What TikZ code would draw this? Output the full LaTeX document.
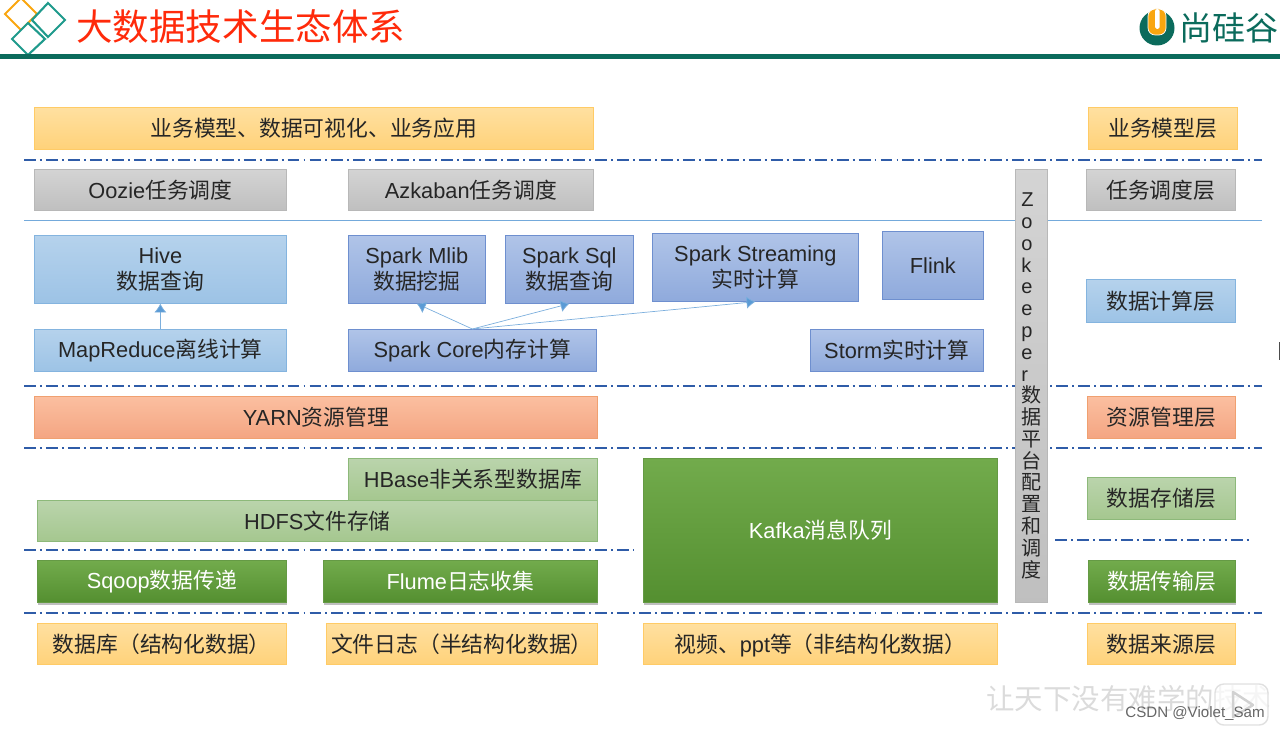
\documentclass[tikz,border=0pt]{standalone}
\usepackage{fontspec}
\setmainfont{Liberation Sans}
\newfontfamily\cjk{Noto Sans CJK SC}
\usetikzlibrary{arrows.meta,shadows}
\definecolor{barteal}{HTML}{0B6B5C}
\definecolor{diamondteal}{HTML}{1F9A8C}
\definecolor{logoorange}{HTML}{F9A60F}
\definecolor{titlered}{HTML}{FF2A0A}
\definecolor{sepblue}{HTML}{2F5CA8}
\definecolor{arrowblue}{HTML}{5B9BD5}
\definecolor{yellowtop}{HTML}{FFE0A0}
\definecolor{yellowbot}{HTML}{FFD27A}
\definecolor{yellowline}{HTML}{FFCB66}
\definecolor{bluetop}{HTML}{B0C4E8}
\definecolor{bluebot}{HTML}{8FAADC}
\definecolor{blueline}{HTML}{6E8FCF}
\definecolor{redtop}{HTML}{FBBFA0}
\definecolor{redbot}{HTML}{F4A582}
\definecolor{redline}{HTML}{F0A070}
\definecolor{paletop}{HTML}{BAD4AC}
\definecolor{palebot}{HTML}{A5C78F}
\definecolor{paleline}{HTML}{8DB97A}
\definecolor{greentop}{HTML}{72AB4C}
\definecolor{greenbot}{HTML}{548F30}
\tikzset{
    box/.style={anchor=north west, inner sep=0pt, align=center, text=black!85,
        font=\fontsize{12.4}{14.6}\selectfont},
    zhfont/.style={font=\cjk\fontsize{12.4}{14.6}\selectfont},
    wh/.style n args={2}{minimum width=#1*0.02cm, minimum height=#2*0.02cm},
    yellowbox/.style={box, draw=yellowline, top color=yellowtop, bottom color=yellowbot},
    graybox/.style={box, draw=black!28, top color=black!17, bottom color=black!25},
    skybox/.style={box, draw=arrowblue!75, top color=arrowblue!45, bottom color=arrowblue!60},
    bluebox/.style={box, draw=blueline, top color=bluetop, bottom color=bluebot},
    redbox/.style={box, draw=redline, top color=redtop, bottom color=redbot},
    palegreenbox/.style={box, draw=paleline, top color=paletop, bottom color=palebot},
    greenbox/.style={box, draw=greenbot!90!white, text=white, top color=greentop, bottom color=greenbot,
        drop shadow={shadow xshift=0.3pt, shadow yshift=-1.5pt, opacity=0.5}},
    sepline/.style={draw=sepblue, line width=0.9pt, dash pattern=on 6.8pt off 2.3pt on 1.1pt off 2.3pt},
    flow/.style={draw=arrowblue!80, line width=0.4pt, -{Latex[length=5pt,width=7pt,fill=arrowblue]}}
}
\begin{document}
\begin{tikzpicture}[x=0.02cm, y=-0.02cm]
    \useasboundingbox (0,0) rectangle (1280,729);

    \draw[logoorange, line width=1.2pt] (21,-2) -- (37,14) -- (21,30) -- (5,14) -- cycle;
    \draw[diamondteal, line width=1.2pt] (48,3) -- (65,20) -- (48,37) -- (32,20) -- cycle;
    \draw[diamondteal, line width=1.2pt, fill=white] (28,23) -- (45,39) -- (28,55) -- (12,39) -- cycle;
    \node[anchor=west, inner sep=0pt, text=titlered, font=\cjk\fontsize{20.8}{22}\selectfont] (title) at (76,27) {大数据技术生态体系};

    \fill[barteal] (0,54.5) rectangle (1280,59);
    \fill[barteal] (1157,28) circle (17.5);
    \fill[logoorange, draw=white, line width=0.4pt, rounded corners=4pt] (1148,9) rectangle (1166,35);
    \fill[white, rounded corners=1pt] (1155,9) rectangle (1159.5,29);
    \node[anchor=west, inner sep=0pt, text=barteal, font=\cjk\fontsize{18.8}{20}\selectfont] (brand) at (1179,28) {尚硅谷};

    \foreach \sepy in {160,386,448,613} {
        \coordinate (sepl\sepy) at (24,\sepy);
        \coordinate (sepr\sepy) at (1262,\sepy);
        \draw[sepline] (sepl\sepy) -- (sepr\sepy);
    }
    \coordinate (hdfsl) at (24,550);
    \coordinate (hdfsr) at (633,550);
    \draw[sepline] (hdfsl) -- (hdfsr);
    \coordinate (transl) at (1055,540);
    \coordinate (transr) at (1252,540);
    \draw[sepline] (transl) -- (transr);
    \coordinate (taskl) at (24,220);
    \coordinate (taskr) at (1262,220);
    \draw[draw=arrowblue!85, line width=0.5pt] (taskl) -- (taskr);

    \node[yellowbox, wh={559}{42}, zhfont] (bizapp) at (34,107) {业务模型、数据可视化、业务应用};
    \node[graybox, wh={252}{41}] (oozie) at (34,169) {Oozie{\cjk 任务调度}};
    \node[graybox, wh={245}{41}] (azkaban) at (348,169) {Azkaban{\cjk 任务调度}};
    \node[skybox, wh={252}{68}] (hive) at (34,235) {Hive\\{\cjk 数据查询}};
    \node[bluebox, wh={137}{68}] (mlib) at (348,235) {Spark Mlib\\{\cjk 数据挖掘}};
    \node[bluebox, wh={128}{68}] (sparksql) at (505,235) {Spark Sql\\{\cjk 数据查询}};
    \node[bluebox, wh={206}{68}] (streaming) at (652,233) {Spark Streaming\\{\cjk 实时计算}};
    \node[bluebox, wh={101}{68}] (flink) at (882,231) {Flink};
    \node[skybox, wh={252}{42}] (mapreduce) at (34,329) {MapReduce{\cjk 离线计算}};
    \node[bluebox, wh={248}{42}] (sparkcore) at (348,329) {Spark Core{\cjk 内存计算}};
    \node[bluebox, wh={173}{42}] (storm) at (810,329) {Storm{\cjk 实时计算}};
    \node[redbox, wh={563}{42}] (yarn) at (34,396) {YARN{\cjk 资源管理}};
    \node[palegreenbox, wh={249}{42}] (hbase) at (348,458) {HBase{\cjk 非关系型数据库}};
    \node[palegreenbox, wh={560}{41}] (hdfs) at (37,500) {HDFS{\cjk 文件存储}};
    \node[greenbox, wh={354}{144}] (kafka) at (643,458) {Kafka{\cjk 消息队列}};
    \node[greenbox, wh={249}{42}] (sqoop) at (37,560) {Sqoop{\cjk 数据传递}};
    \node[greenbox, wh={274}{42}] (flume) at (323,560) {Flume{\cjk 日志收集}};
    \node[yellowbox, wh={249}{41}, zhfont] (database) at (37,623) {数据库（结构化数据）};
    \node[yellowbox, wh={271}{41}, zhfont] (filelog) at (326,623) {文件日志（半结构化数据）};
    \node[yellowbox, wh={354}{41}, zhfont, text height=12pt, text depth=2.6pt] (video) at (643,623) {视频、{\rmfamily ppt}等（非结构化数据）};

    \node[graybox, wh={32}{433}, align=left, font=\fontsize{11.4}{12.4}\selectfont] (zookeeper) at (1015,169)
        {Z\\o\\o\\k\\e\\e\\p\\e\\r\\{\cjk 数}\\{\cjk 据}\\{\cjk 平}\\{\cjk 台}\\{\cjk 配}\\{\cjk 置}\\{\cjk 和}\\{\cjk 调}\\{\cjk 度}};

    \node[yellowbox, wh={149}{42}, zhfont] (layerbiz) at (1088,107) {业务模型层};
    \node[graybox, wh={149}{41}, zhfont] (layertask) at (1086,169) {任务调度层};
    \node[skybox, wh={149}{43}, zhfont] (layercalc) at (1086,279) {数据计算层};
    \node[redbox, wh={148}{42}, zhfont] (layerres) at (1087,396) {资源管理层};
    \node[palegreenbox, wh={148}{42}, zhfont] (layerstore) at (1087,477) {数据存储层};
    \node[greenbox, wh={147}{42}, zhfont] (layertrans) at (1088,560) {数据传输层};
    \node[yellowbox, wh={148}{41}, zhfont] (layersrc) at (1087,623) {数据来源层};

    \draw[flow] (mapreduce.north) -- (hive.south);
    \draw[flow] (sparkcore.north) -- (mlib.south);
    \draw[flow] (sparkcore.north) -- (sparksql.south);
    \draw[flow] (sparkcore.north) -- (streaming.south);

    \node[anchor=west, inner sep=0pt, text=black!14, font=\cjk\fontsize{16.2}{18}\selectfont] (motto) at (986,699) {让天下没有难学的技术};
    \draw[black!12, fill=white, fill opacity=0.75, line width=0.8pt, rounded corners=5pt] (1215,684) rectangle (1268,725);
    \draw[black!18, line width=1.4pt, line join=round] (1233,692) -- (1253,705) -- (1233,717) -- cycle;
    \node[anchor=west, inner sep=0pt, text=black!60, font=\fontsize{8.6}{10}\selectfont] (credit) at (1125,714) {CSDN @Violet\_Sam};
    \fill[black!70] (1278.5,342) rectangle (1280,360);
\end{tikzpicture}
\end{document}
